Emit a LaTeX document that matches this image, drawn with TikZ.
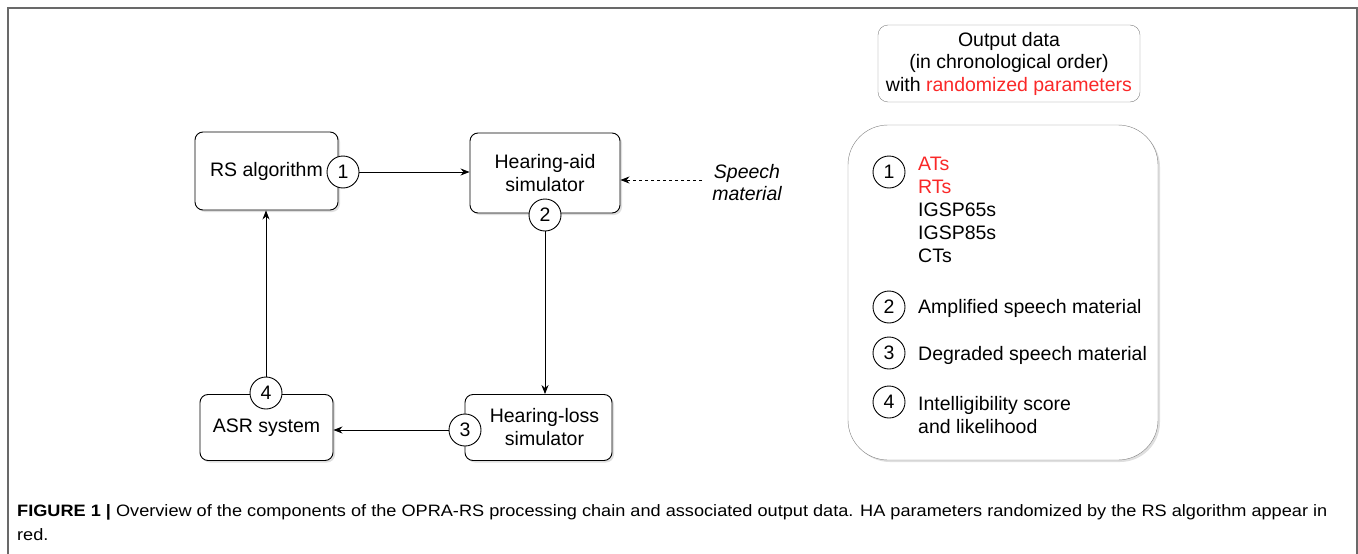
\documentclass[tikz,border=0pt]{standalone}
\usepackage{fontspec}
\setmainfont{Liberation Sans}
\usetikzlibrary{arrows.meta,shadows}
\definecolor{paramred}{RGB}{250,40,40}
\definecolor{framegray}{RGB}{105,105,105}

\begin{document}
\begin{tikzpicture}[x=1pt,y=-1pt,
    every node/.style={font=\fontsize{19.5}{23}\selectfont},
    block/.style={draw, line width=0.9pt, rounded corners=8pt, fill=white, align=center, inner sep=0pt,
      drop shadow={opacity=0.25, shadow xshift=2pt, shadow yshift=-2pt}},
    num/.style={draw, line width=0.9pt, circle, fill=white, minimum size=32pt, inner sep=0pt},
    flow/.style={line width=0.9pt, -{Stealth[length=9pt,width=7pt]}},
    item/.style={anchor=base west, inner sep=0pt}]
    \useasboundingbox (0,0) rectangle (1358,554);
    % figure frame
    \draw[framegray, line width=1.2pt] (8,554) -- (8,8) -- (1357,8) -- (1357,554);

    % processing chain
    \node[block, minimum width=143pt, minimum height=78pt] (rs) at (266.5,171) {RS algorithm};
    \node[block, minimum width=150pt, minimum height=80pt] (ha) at (545,173) {Hearing-aid\\simulator};
    \node[block, minimum width=147pt, minimum height=66pt] (hl) at (538.5,427.5) {\hspace*{12pt}Hearing-loss\\\hspace*{12pt}simulator};
    \node[block, minimum width=133pt, minimum height=66pt] (asr) at (266.5,427.5) {ASR system};

    \node[num] (n1) at (343,172) {1};
    \node[num] (n2) at (545,215) {2};
    \node[num] (n3) at (465,430) {3};
    \node[num] (n4) at (266,393) {4};

    \node[align=center, font=\fontsize{19.5}{22}\selectfont\itshape] (speech) at (747,183) {Speech\\material};
    \coordinate (sp) at (702,180);
    \coordinate (hain) at (ha.east |- sp);

    \draw[flow] (n1) -- (ha.west |- n1);
    \draw[flow, dashed] (sp) -- (hain);
    \draw[flow] (n2) -- (hl.north -| n2);
    \draw[flow] (n3) -- (asr.east |- n3);
    \draw[flow] (n4) -- (rs.south -| n4);

    % output data
    \node[draw=gray, rounded corners=10pt, minimum width=262pt, minimum height=77pt, align=center,
      inner sep=0pt, font=\fontsize{19.5}{22.5}\selectfont] (outhead) at (1009,63.5)
      {Output data\\(in chronological order)\\with \textcolor{paramred}{randomized parameters}};
    \draw[draw=gray, rounded corners=40pt, fill=white,
      drop shadow={opacity=0.25, shadow xshift=2pt, shadow yshift=-2pt}] (848,125) rectangle (1158,460);

    \node[num] (o1) at (889,172) {1};
    \node[num] (o2) at (889,307) {2};
    \node[num] (o3) at (889,353) {3};
    \node[num] (o4) at (889,402) {4};

    \node[item, paramred] (at) at (918,170) {ATs};
    \node[item, paramred] (rt) at (918,193) {RTs};
    \node[item] (ig65) at (918,216) {IGSP65s};
    \node[item] (ig85) at (918,239) {IGSP85s};
    \node[item] (ct) at (918,262) {CTs};
    \node[item] (amp) at (918,313) {Amplified speech material};
    \node[item] (deg) at (918,360) {Degraded speech material};
    \node[item] (intel) at (918,410) {Intelligibility score};
    \node[item] (likely) at (918,433) {and likelihood};

    % caption
    \node[item, font=\fontsize{16.5}{24}\selectfont] (cap1) at (17,516)
      {\scalebox{1.1}[1]{\textbf{FIGURE 1 |} Overview of the components of the OPRA-RS processing chain and associated output data. HA parameters randomized by the RS algorithm appear in}};
    \node[item, font=\fontsize{16.5}{24}\selectfont] (cap2) at (17,540) {\scalebox{1.1}[1]{red.}};
\end{tikzpicture}
\end{document}
